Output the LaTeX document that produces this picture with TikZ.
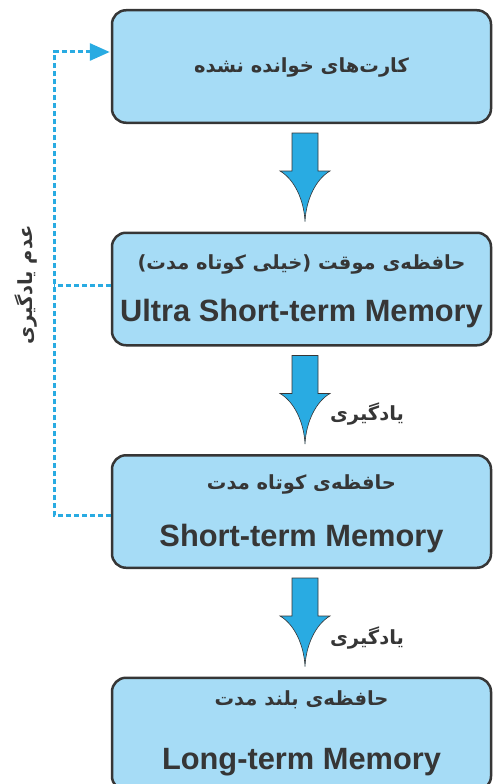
\documentclass[tikz,border=0pt]{standalone}
\usepackage{fontspec}
\setmainfont{Liberation Sans}
\newfontfamily\farsi[Script=Arabic]{DejaVu Sans}
\TeXXeTstate=1
\usetikzlibrary{arrows.meta,calc,positioning}
\tikzset{>=latex}

\definecolor{boxfill}{HTML}{A6DCF6}
\definecolor{arrowblue}{HTML}{29ABE2}
\definecolor{inkgray}{HTML}{363636}

\tikzset{
  memory/.style={draw=inkgray, line width=2.5pt, fill=boxfill, rounded corners=14pt,
    minimum width=379pt, minimum height=112.5pt, inner sep=0pt},
  fa/.style={font=\farsi\bfseries\fontsize{19.5}{24}\selectfont, text=inkgray, inner sep=0pt},
  en/.style={font=\bfseries\fontsize{30.8}{36}\selectfont, text=inkgray, inner sep=0pt},
  flow/.style={fill=arrowblue, draw=inkgray, line width=0.6pt},
  dashline/.style={draw=arrowblue, line width=3pt, dash pattern=on 5pt off 3pt},
}

% thick down arrow with a concave head, from one box to the next
\newcommand\flowarrow[2]{%
  \draw[flow] let \p1=($(#1.south)+(3.5,-9)$), \p2=($(#2.north)+(3.5,10)$) in
    (\x1-13,\y1) -- (\x1+13,\y1) -- (\x1+13,\y1-38) -- (\x1+25,\y1-38)
    .. controls (\x1+11,\y1-46) and (\x2+1,\y2+22) .. (\x2,\y2)
    .. controls (\x2-1,\y2+22) and (\x1-11,\y1-46) .. (\x1-25,\y1-38)
    -- (\x1-13,\y1-38) -- cycle;}

\begin{document}
\begin{tikzpicture}[x=1pt, y=1pt, node distance=107.5pt]
    \useasboundingbox (0,0) rectangle (493,-784);

    % the four stages
    \node[memory] (cards) at (301.5,-66.5) {};
    \node[memory, below=of cards] (ustm) {};
    \node[memory, below=of ustm] (stm) {};
    \node[memory, below=of stm] (ltm) {};

    \node[fa] (cardsfa) at ($(cards.center)+(0,-0.5)$) {\beginR کارت^^^^200cهای خوانده نشده\endR};
    \node[fa] (ustmfa) at ($(ustm.center)+(0,24.5)$) {\beginR حافظه^^^^200cی موقت (خیلی کوتاه مدت)\endR};
    \node[en] (ustmen) at ($(ustm.center)+(0,-24.5)$) {Ultra Short-term Memory};
    \node[fa] (stmfa) at ($(stm.center)+(0,27)$) {\beginR حافظه^^^^200cی کوتاه مدت\endR};
    \node[en] (stmen) at ($(stm.center)+(0,-27.5)$) {Short-term Memory};
    \node[fa] (ltmfa) at ($(ltm.center)+(0,34)$) {\beginR حافظه^^^^200cی بلند مدت\endR};
    \node[en] (ltmen) at ($(ltm.center)+(0,-28)$) {Long-term Memory};

    % forward arrows
    \flowarrow{cards}{ustm}
    \flowarrow{ustm}{stm}
    \flowarrow{stm}{ltm}
    \node[fa] (learn1) at ($(stm.north)+(65.5,40)$) {\beginR یادگیری\endR};
    \node[fa] (learn2) at ($(ltm.north)+(65.5,38)$) {\beginR یادگیری\endR};

    % way back when nothing is learned
    \coordinate (rail) at (54,0);
    \coordinate (back) at ($(cards.west)+(0,14.5)$);
    \draw[dashline] ($(ustm.west)+(0,4)$) -- ($(ustm.west -| rail)+(0,4)$);
    \draw[dashline, -{Triangle[length=20pt, width=17pt]}, shorten >=1pt]
        ($(stm.west)+(0,-4)$) -- ($(stm.west -| rail)+(0,-4)$) |- (back);
    \node[fa, rotate=90] (forget) at ($(ustm.west -| rail)+(-28,4)$) {\beginR عدم یادگیری\endR};
\end{tikzpicture}
\end{document}
